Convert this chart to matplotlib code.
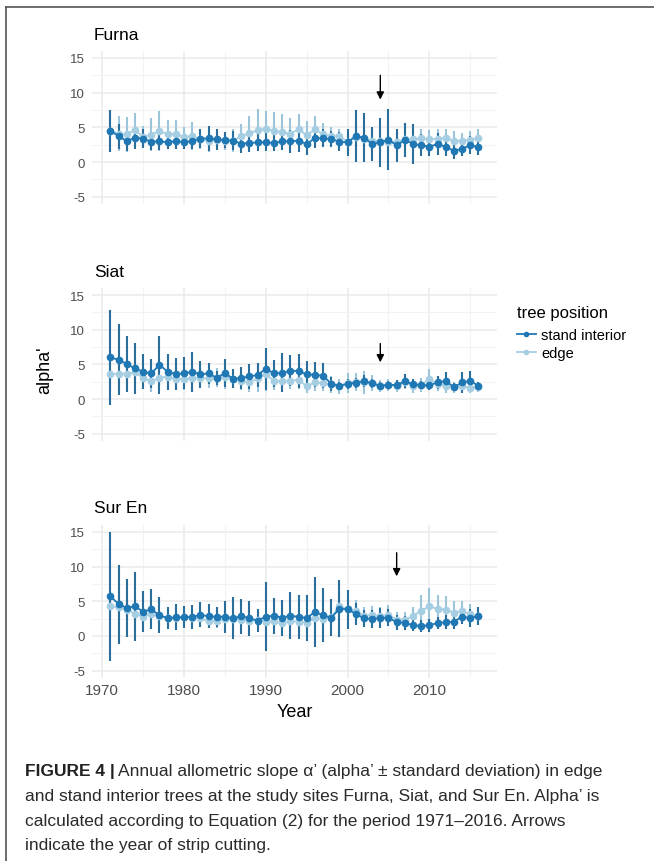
import numpy as np
import matplotlib.pyplot as plt
from matplotlib.lines import Line2D

plt.rcParams['font.family'] = ['Liberation Sans', 'DejaVu Sans']
plt.rcParams['axes.unicode_minus'] = False

years = np.arange(1971, 2017)

# Furna
furna_int = [4.47, 3.75, 3.03, 3.5, 3.37, 2.93, 2.98, 2.84, 3.03, 2.84, 3.03, 3.37, 3.41, 3.27, 3.17, 3.08,
             2.64, 2.74, 2.84, 2.84, 2.74, 2.98, 2.98, 3.08, 2.6, 3.46, 3.41, 3.32, 2.93, 2.84, 3.75, 3.5,
             2.6, 2.84, 3.22, 2.4, 3.17, 2.64, 2.4, 2.21, 2.6, 2.21, 1.59, 1.92, 2.4, 2.16]
furna_int_sd = [3.0, 1.8, 1.5, 1.6, 1.4, 1.2, 1.2, 1.0, 1.1, 1.0, 1.1, 1.4, 1.8, 1.5, 1.1, 1.4,
                1.3, 1.3, 1.2, 1.3, 1.2, 1.2, 1.7, 1.7, 1.6, 1.4, 1.3, 1.2, 1.4, 1.9, 3.8, 3.5,
                2.5, 3.5, 4.4, 2.4, 2.4, 2.9, 1.6, 1.3, 1.6, 1.3, 1.2, 1.1, 1.3, 1.1]
furna_edge = [4.47, 4.1, 4.0, 4.66, 3.6, 3.94, 4.47, 4.0, 4.0, 3.56, 3.75, 3.27, 3.03, 3.2, 3.1, 3.1,
              3.7, 4.13, 4.6, 4.8, 4.47, 4.28, 4.04, 4.76, 3.85, 4.7, 4.0, 3.75, 3.7, 2.93, 3.6, 3.37,
              3.1, 2.98, 2.88, 2.88, 3.27, 3.27, 3.41, 3.27, 3.37, 3.46, 3.03, 3.08, 3.22, 3.5]
furna_edge_sd = [3.0, 2.5, 2.5, 2.4, 1.6, 2.4, 2.9, 2.0, 2.0, 1.5, 2.0, 1.4, 1.6, 1.3, 1.3, 1.6,
                 1.8, 2.5, 3.0, 2.6, 2.8, 2.6, 2.3, 2.2, 2.0, 1.9, 1.6, 1.3, 1.0, 1.3, 1.5, 1.2,
                 1.4, 1.5, 1.5, 1.4, 1.2, 1.3, 1.3, 1.3, 1.4, 1.3, 1.5, 1.1, 1.2, 1.2]

# Siat
siat_int = [6.0, 5.67, 5.05, 4.42, 3.94, 3.7, 4.95, 3.94, 3.6, 3.7, 3.94, 3.56, 3.7, 3.08, 3.75, 2.93,
            3.03, 3.27, 3.46, 4.38, 3.7, 3.8, 4.09, 4.04, 3.56, 3.5, 3.37, 2.21, 1.92, 2.21, 2.36, 2.6,
            2.26, 1.92, 2.07, 2.02, 2.6, 2.12, 2.02, 1.97, 2.4, 2.6, 1.73, 2.4, 2.6, 1.92]
siat_int_sd = [6.8, 5.1, 4.1, 3.7, 2.5, 2.1, 4.2, 2.6, 2.3, 2.3, 2.9, 1.9, 1.5, 1.0, 2.0, 1.4,
               1.6, 1.8, 1.7, 3.0, 2.0, 2.8, 2.2, 2.4, 1.9, 1.8, 1.8, 1.0, 0.5, 0.7, 0.7, 0.9,
               0.7, 0.6, 0.6, 0.7, 1.0, 0.8, 0.6, 0.6, 0.9, 1.3, 0.6, 1.5, 1.4, 0.5]
siat_edge = [3.6, 3.65, 3.65, 3.9, 3.03, 2.55, 3.08, 3.22, 2.88, 2.88, 2.98, 3.03, 2.98, 3.08, 3.22, 2.88,
             2.6, 2.4, 2.98, 3.6, 2.6, 2.6, 2.64, 2.79, 1.83, 2.4, 2.26, 2.12, 1.83, 2.31, 2.5, 2.4,
             2.31, 1.88, 2.02, 1.92, 2.4, 1.92, 2.02, 2.88, 2.16, 1.92, 1.68, 1.83, 1.63, 1.68]
siat_edge_sd = [2.6, 2.4, 2.2, 2.0, 1.5, 1.6, 2.0, 1.8, 1.5, 1.5, 1.5, 1.5, 1.4, 1.4, 1.8, 1.3,
                1.3, 1.4, 2.0, 2.5, 1.3, 1.3, 1.2, 1.3, 0.9, 1.2, 1.1, 1.2, 1.1, 1.4, 1.3, 1.6,
                1.2, 0.9, 0.9, 0.9, 1.0, 1.0, 1.0, 1.5, 1.0, 1.1, 0.8, 1.0, 0.8, 0.7]

# Sur En
suren_int = [5.72, 4.6, 4.04, 4.28, 3.5, 3.85, 2.98, 2.55, 2.7, 2.7, 2.74, 3.03, 2.84, 2.74, 2.79, 2.55,
             2.84, 2.55, 2.21, 2.79, 2.93, 2.64, 2.93, 2.74, 2.6, 3.46, 2.98, 2.64, 3.9, 3.85, 3.17, 2.55,
             2.45, 2.6, 2.64, 1.97, 1.92, 1.54, 1.44, 1.54, 1.88, 1.97, 2.07, 2.79, 2.55, 2.88]
suren_int_sd = [9.3, 5.7, 4.2, 5.0, 3.0, 2.9, 2.6, 1.6, 1.9, 1.6, 1.7, 1.8, 1.7, 1.5, 2.3, 3.0,
                2.5, 2.5, 1.7, 5.0, 2.6, 2.6, 3.4, 3.2, 3.3, 5.1, 3.9, 2.7, 4.1, 2.8, 1.6, 1.2,
                1.3, 1.4, 1.2, 1.1, 1.0, 0.8, 0.8, 0.9, 0.9, 1.0, 1.1, 1.0, 1.3, 1.3]
suren_edge = [4.28, 4.13, 3.8, 3.22, 2.79, 3.17, 2.84, 2.6, 2.55, 2.7, 2.64, 2.55, 2.12, 2.16, 2.45, 2.4,
              2.36, 2.21, 2.31, 2.07, 2.12, 1.83, 2.12, 2.07, 1.92, 2.55, 2.45, 2.7, 4.28, 3.85, 3.65, 2.93,
              3.03, 2.84, 3.08, 2.36, 2.36, 2.84, 3.65, 4.28, 3.9, 3.8, 3.37, 3.6, 3.12, 2.84]
suren_edge_sd = [1.8, 1.6, 1.5, 1.3, 1.2, 1.4, 1.2, 1.1, 1.1, 1.1, 1.1, 1.1, 1.0, 1.0, 1.1, 1.1,
                 1.1, 1.0, 1.1, 1.0, 1.0, 1.0, 1.0, 1.0, 1.0, 1.2, 1.1, 1.2, 2.0, 1.6, 1.5, 1.3,
                 1.3, 1.3, 1.4, 1.1, 1.1, 1.4, 2.2, 2.6, 2.0, 1.9, 1.6, 1.5, 1.5, 1.3]

sites = ['Furna', 'Siat', 'Sur En']
cut_year = [2004, 2004, 2006]
arrow_top = [12.5, 8.0, 12.0]
arrow_tip = [9.0, 5.3, 8.6]

interior = [furna_int, siat_int, suren_int]
interior_sd = [furna_int_sd, siat_int_sd, suren_int_sd]
edge = [furna_edge, siat_edge, suren_edge]
edge_sd = [furna_edge_sd, siat_edge_sd, suren_edge_sd]

c_int = '#1f78b4'
c_int_bar = '#2a6f9b'
c_edge = '#a6cee3'
c_edge_bar = '#9cc5dc'

fig = plt.figure(figsize=(6.54, 8.62), dpi=100)

bottoms = [0.7626, 0.4876, 0.2128]
for i in range(3):
    ax = fig.add_axes([0.1407, bottoms[i], 0.619, 0.177])
    for vals, sd, col, ecol in [(edge[i], edge_sd[i], c_edge, c_edge_bar),
                                (interior[i], interior_sd[i], c_int, c_int_bar)]:
        ax.errorbar(years, vals, yerr=sd, color=col, ecolor=ecol, elinewidth=1.5,
                    lw=1.3, marker='o', ms=4.5, capsize=0, zorder=3)
    ax.annotate('', xy=(cut_year[i], arrow_tip[i]), xytext=(cut_year[i], arrow_top[i]),
                arrowprops=dict(arrowstyle='-|>', color='black', lw=1.0,
                                mutation_scale=11, shrinkA=0, shrinkB=0), zorder=5)
    ax.set_xlim(1968.75, 2018.25)
    ax.set_ylim(-6, 16)
    ax.set_xticks([1970, 1980, 1990, 2000, 2010])
    ax.set_xticks([1975, 1985, 1995, 2005, 2015], minor=True)
    ax.set_yticks([-5, 0, 5, 10, 15])
    ax.set_yticks([-2.5, 2.5, 7.5, 12.5], minor=True)
    ax.grid(which='major', color='#ebebeb', lw=1.1)
    ax.grid(which='minor', color='#f3f3f3', lw=0.8)
    ax.set_axisbelow(True)
    for s in ax.spines.values():
        s.set_visible(False)
    ax.tick_params(which='both', length=0, labelsize=9.5, labelcolor='#4d4d4d', pad=5)
    if i < 2:
        ax.set_xticklabels([])
    else:
        ax.tick_params(axis='x', labelsize=11, pad=4)
        ax.set_xlabel('Year', fontsize=13, labelpad=4)
    ax.set_title(sites[i], loc='left', fontsize=12.5, pad=9, x=0.005)

fig.text(0.068, 0.57, "alpha'", rotation=90, fontsize=13, ha='center', va='center')

# legend
handles = [Line2D([], [], color=c_int, marker='o', ms=3, lw=1.3),
           Line2D([], [], color=c_edge, marker='o', ms=3, lw=1.3)]
fig.legend(handles, ['stand interior', 'edge'], title='tree position', loc='upper left',
           bbox_to_anchor=(0.77, 0.656), frameon=False, fontsize=10.5, title_fontsize=12,
           handlelength=1.3, handletextpad=0.4, labelspacing=0.3, alignment='left')
fig.legends[0].get_title().set_position((0, 4))

# caption
cap_font = ['Liberation Sans Narrow', 'Liberation Sans', 'DejaVu Sans']
t0 = fig.text(0.038, 1 - 772 / 862, "FIGURE 4 |", fontsize=12.5, va='center', family=cap_font,
              weight='bold', color='#222222')
fig.canvas.draw()
bb = t0.get_window_extent()
fig.text((bb.x1 + 3) / fig.bbox.width, 1 - 772 / 862,
         "Annual allometric slope \u03b1\u2019 (alpha\u2019 \u00b1 standard deviation) in edge",
         fontsize=12.5, va='center', family=cap_font, color='#2a2a2a')
lines = ["and stand interior trees at the study sites Furna, Siat, and Sur En. Alpha\u2019 is",
         "calculated according to Equation (2) for the period 1971\u20132016. Arrows",
         "indicate the year of strip cutting."]
for k, ln in enumerate(lines):
    fig.text(0.038, 1 - (797 + 24.5 * k) / 862, ln, fontsize=12.5, va='center',
             family=cap_font, color='#2a2a2a')

# border lines
fig.add_artist(Line2D([6 / 654, 1], [1 - 8 / 862, 1 - 8 / 862], color='#555555', lw=1.2))
fig.add_artist(Line2D([6 / 654, 6 / 654], [0, 1 - 8 / 862], color='#555555', lw=1.2))

fig.savefig('out.png', dpi=100)
